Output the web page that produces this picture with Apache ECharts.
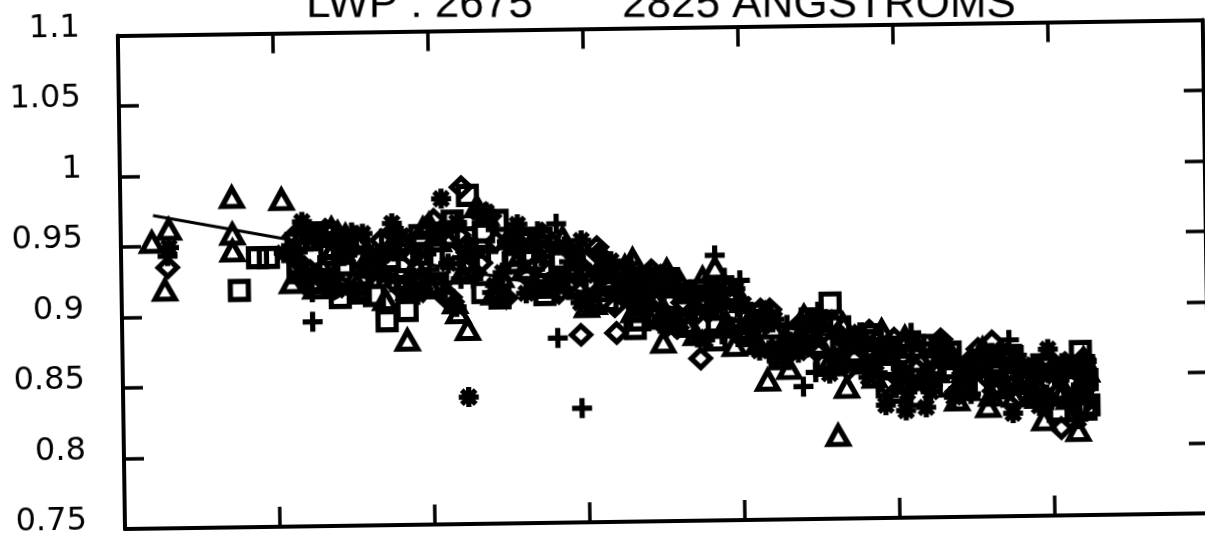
<!DOCTYPE html>
<html><head><meta charset="utf-8">
<script src="https://cdn.jsdelivr.net/npm/echarts@6/dist/echarts.min.js"></script>
<style>
html,body{margin:0;padding:0;background:#fff;overflow:hidden;width:1205px;height:535px;}
#c{position:absolute;left:0;top:0;width:1230px;height:560px;transform-origin:125px 529px;transform:rotate(-0.83deg);}
</style></head><body><div id="c"></div>
<script>
const titleParts = ['LWP : 2675', '2825 ANGSTROMS'];
const yTickValues = [0.75, 0.8, 0.85, 0.9, 0.95, 1.0, 1.05, 1.1];
const yTickLabels = ['0.75','0.8','0.85','0.9','0.95','1','1.05','1.1'];

const fitLine = [[0.21,0.972],[6.08,0.848]];

const triangleData = [
[0.20,0.953],[0.31,0.962],[0.28,0.919],[0.72,0.984],[0.72,0.958],[0.72,0.946],[1.04,0.982],[1.36,0.961],[1.99,0.963],[1.84,0.881],[2.23,0.888],[2.17,0.900],[2.36,0.969],[3.30,0.936],[3.52,0.928],[3.49,0.877],[3.83,0.929],[4.16,0.849],[4.61,0.809],[5.58,0.828],[5.94,0.818],[6.16,0.810],[4.67,0.843],[5.38,0.833],
[1.1,0.923],[1.2,0.953],[1.3,0.934],[1.4,0.958],[1.5,0.925],[1.6,0.942],[1.7,0.910],[1.8,0.955],[1.9,0.934],[2.0,0.918],[2.1,0.955],[2.2,0.928],[2.3,0.975],[2.4,0.913],[2.5,0.952],[2.6,0.930],[2.7,0.953],[2.8,0.920],[2.9,0.932],[3.0,0.903],[3.1,0.933],[3.2,0.915],[3.3,0.899],[3.4,0.918],[3.5,0.899],[3.6,0.920],[3.7,0.882],[3.8,0.914],[3.9,0.890],[4.0,0.905],[4.1,0.875],[4.2,0.886],[4.3,0.857],[4.4,0.894],[4.5,0.874],[4.6,0.861],[4.7,0.876],[4.8,0.860],[4.9,0.883],[5.0,0.839],[5.1,0.871],[5.2,0.851],[5.3,0.871],[5.4,0.844],[5.5,0.857],[5.6,0.836],[5.7,0.863],[5.8,0.848],[5.9,0.834],[6.0,0.853],[6.1,0.833],[6.2,0.861],
[1.15,0.953],[1.25,0.919],[1.35,0.943],[1.45,0.956],[1.55,0.927],[1.65,0.933],[1.75,0.949],[1.85,0.917],[1.95,0.960],[2.05,0.951],[2.15,0.907],[2.25,0.946],[2.35,0.968],[2.45,0.925],[2.55,0.935],[2.65,0.949],[2.75,0.917],[2.85,0.952],[2.95,0.936],[3.05,0.905],[3.15,0.922],[3.25,0.931],[3.35,0.903],[3.45,0.906],[3.55,0.916],[3.65,0.888],[3.75,0.922],[3.85,0.912],[3.95,0.874],[4.05,0.892],[4.15,0.896],[4.25,0.873],[4.35,0.876],[4.45,0.890],[4.55,0.859],[4.65,0.888],[4.75,0.876],[4.85,0.850],[4.95,0.866],[5.05,0.878],[5.15,0.848],[5.25,0.853],[5.35,0.865],[5.45,0.840],[5.55,0.869],[5.65,0.859],[5.75,0.835],[5.85,0.851],[5.95,0.861],[6.05,0.835],[6.15,0.838],[6.22,0.852]
];

const squareData = [
[0.76,0.918],[0.88,0.941],[0.95,0.941],[1.71,0.895],[1.84,0.902],[2.24,0.983],[3.31,0.887],[4.57,0.903],[6.18,0.866],[1.41,0.912],[6.20,0.856],[6.22,0.846],[6.19,0.836],[6.21,0.825],
[1.13,0.951],[1.23,0.924],[1.33,0.958],[1.43,0.935],[1.53,0.950],[1.63,0.913],[1.73,0.939],[1.83,0.924],[1.93,0.955],[2.03,0.918],[2.13,0.941],[2.23,0.953],[2.33,0.914],[2.43,0.965],[2.53,0.935],[2.63,0.949],[2.73,0.912],[2.83,0.935],[2.93,0.918],[3.03,0.936],[3.13,0.907],[3.23,0.917],[3.33,0.920],[3.43,0.894],[3.53,0.922],[3.63,0.899],[3.73,0.913],[3.83,0.878],[3.93,0.898],[4.03,0.881],[4.13,0.896],[4.23,0.869],[4.33,0.880],[4.43,0.885],[4.53,0.859],[4.63,0.886],[4.73,0.868],[4.83,0.876],[4.93,0.843],[5.03,0.863],[5.13,0.848],[5.23,0.872],[5.33,0.843],[5.43,0.855],[5.53,0.859],[5.63,0.841],[5.73,0.864],[5.83,0.846],[5.93,0.857],[6.03,0.824],[6.13,0.844],[6.23,0.828],
[1.14,0.930],[1.24,0.958],[1.34,0.934],[1.44,0.949],[1.54,0.915],[1.64,0.937],[1.74,0.952],[1.84,0.919],[1.94,0.942],[2.04,0.921],[2.14,0.965],[2.24,0.931],[2.34,0.957],[2.44,0.910],[2.54,0.940],[2.64,0.952],[2.74,0.919],[2.84,0.937],[2.94,0.916],[3.04,0.936],[3.14,0.914],[3.24,0.925],[3.34,0.893],[3.44,0.910],[3.54,0.918],[3.64,0.890],[3.74,0.907],[3.84,0.887],[3.94,0.912],[4.04,0.885],[4.14,0.891],[4.24,0.864],[4.34,0.880],[4.44,0.892],[4.54,0.861],[4.64,0.876],[4.74,0.862],[4.84,0.880],[4.94,0.858],[5.04,0.871],[5.14,0.836],[5.24,0.858],[5.34,0.867],[5.44,0.842],[5.54,0.858],[5.64,0.844],[5.74,0.863],[5.84,0.844],[5.94,0.855],[6.04,0.824],[6.14,0.842],[6.2,0.854]
];

const diamondData = [
[0.30,0.935],[1.17,0.925],[2.20,0.989],[2.96,0.883],[3.07,0.945],[3.73,0.865],[5.61,0.874],[6.05,0.812],[3.19,0.884],
[1.18,0.934],[1.28,0.957],[1.38,0.919],[1.48,0.946],[1.58,0.934],[1.68,0.952],[1.78,0.920],[1.88,0.940],[1.98,0.960],[2.08,0.912],[2.18,0.955],[2.28,0.928],[2.38,0.968],[2.48,0.910],[2.58,0.947],[2.68,0.933],[2.78,0.948],[2.88,0.918],[2.98,0.930],[3.08,0.940],[3.18,0.903],[3.28,0.925],[3.38,0.905],[3.48,0.924],[3.58,0.887],[3.68,0.909],[3.78,0.898],[3.88,0.917],[3.98,0.881],[4.08,0.892],[4.18,0.899],[4.28,0.866],[4.38,0.889],[4.48,0.869],[4.58,0.890],[4.68,0.856],[4.78,0.875],[4.88,0.864],[4.98,0.877],[5.08,0.844],[5.18,0.862],[5.28,0.876],[5.38,0.839],[5.48,0.862],[5.58,0.848],[5.68,0.864],[5.78,0.835],[5.88,0.855],[5.98,0.844],[6.08,0.858],[6.18,0.827],[6.21,0.842],
[1.12,0.956],[1.22,0.931],[1.32,0.960],[1.42,0.920],[1.52,0.941],[1.62,0.933],[1.72,0.944],[1.82,0.950],[1.92,0.924],[2.02,0.966],[2.12,0.911],[2.22,0.946],[2.32,0.935],[2.42,0.950],[2.52,0.952],[2.62,0.925],[2.72,0.955],[2.82,0.913],[2.92,0.930],[3.02,0.920],[3.12,0.926],[3.22,0.927],[3.32,0.903],[3.42,0.928],[3.52,0.889],[3.62,0.905],[3.72,0.898],[3.82,0.909],[3.92,0.907],[4.02,0.881],[4.12,0.899],[4.22,0.866],[4.32,0.882],[4.42,0.873],[4.52,0.882],[4.62,0.881],[4.72,0.863],[4.82,0.883],[4.92,0.845],[5.02,0.863],[5.12,0.855],[5.22,0.864],[5.32,0.865],[5.42,0.846],[5.52,0.869],[5.62,0.839],[5.72,0.853],[5.82,0.846],[5.92,0.853],[6.02,0.856],[6.12,0.831],[6.2,0.861]
];

const plusData = [
[0.30,0.943],[1.23,0.895],[1.23,0.916],[2.81,0.881],[2.96,0.831],[2.81,0.962],[3.83,0.938],[3.99,0.920],[4.39,0.844],[5.72,0.875],
[1.17,0.958],[1.27,0.930],[1.37,0.941],[1.47,0.917],[1.57,0.947],[1.67,0.930],[1.77,0.957],[1.87,0.917],[1.97,0.942],[2.07,0.921],[2.17,0.962],[2.27,0.924],[2.37,0.943],[2.47,0.910],[2.57,0.950],[2.67,0.930],[2.77,0.953],[2.87,0.916],[2.97,0.932],[3.07,0.912],[3.17,0.931],[3.27,0.907],[3.37,0.914],[3.47,0.890],[3.57,0.914],[3.67,0.897],[3.77,0.920],[3.87,0.882],[3.97,0.901],[4.07,0.879],[4.17,0.894],[4.27,0.873],[4.37,0.880],[4.47,0.854],[4.57,0.884],[4.67,0.868],[4.77,0.882],[4.87,0.853],[4.97,0.868],[5.07,0.846],[5.17,0.873],[5.27,0.847],[5.37,0.856],[5.47,0.837],[5.57,0.861],[5.67,0.848],[5.77,0.864],[5.87,0.835],[5.97,0.851],[6.07,0.833],[6.17,0.855],[6.21,0.830],
[1.19,0.925],[1.29,0.949],[1.39,0.936],[1.49,0.958],[1.59,0.927],[1.69,0.940],[1.79,0.917],[1.89,0.945],[1.99,0.931],[2.09,0.963],[2.19,0.924],[2.29,0.946],[2.39,0.914],[2.49,0.950],[2.59,0.935],[2.69,0.957],[2.79,0.924],[2.89,0.935],[2.99,0.912],[3.09,0.929],[3.19,0.916],[3.29,0.933],[3.39,0.903],[3.49,0.912],[3.59,0.891],[3.69,0.909],[3.79,0.898],[3.89,0.922],[3.99,0.885],[4.09,0.892],[4.19,0.872],[4.29,0.888],[4.39,0.876],[4.49,0.897],[4.59,0.865],[4.69,0.874],[4.79,0.859],[4.89,0.873],[4.99,0.860],[5.09,0.881],[5.19,0.848],[5.29,0.860],[5.39,0.841],[5.49,0.860],[5.59,0.851],[5.69,0.866],[5.79,0.843],[5.89,0.851],[5.99,0.832],[6.09,0.851],[6.19,0.838],[6.22,0.859]
];

const starData = [
[0.31,0.949],[1.05,0.944],[1.17,0.966],[1.52,0.956],[1.75,0.964],[2.07,0.981],[2.17,0.964],[2.56,0.962],[2.97,0.950],[2.23,0.840],[5.74,0.823],[5.97,0.868],[4.92,0.830],[5.05,0.826],[5.18,0.828],
[1.11,0.942],[1.21,0.960],[1.31,0.926],[1.41,0.949],[1.51,0.915],[1.61,0.942],[1.71,0.927],[1.81,0.955],[1.91,0.913],[2.01,0.954],[2.11,0.935],[2.21,0.939],[2.31,0.971],[2.41,0.919],[2.51,0.950],[2.61,0.913],[2.71,0.939],[2.81,0.924],[2.91,0.942],[3.01,0.907],[3.11,0.929],[3.21,0.913],[3.31,0.912],[3.41,0.926],[3.51,0.893],[3.61,0.911],[3.71,0.880],[3.81,0.907],[3.91,0.887],[4.01,0.903],[4.11,0.870],[4.21,0.892],[4.31,0.876],[4.41,0.876],[4.51,0.892],[4.61,0.861],[4.71,0.876],[4.81,0.850],[4.91,0.868],[5.01,0.851],[5.11,0.875],[5.21,0.839],[5.31,0.865],[5.41,0.851],[5.51,0.853],[5.61,0.866],[5.71,0.840],[5.81,0.857],[5.91,0.828],[6.01,0.849],[6.11,0.833],[6.21,0.856],
[1.16,0.930],[1.26,0.955],[1.36,0.917],[1.46,0.942],[1.56,0.957],[1.66,0.928],[1.76,0.944],[1.86,0.914],[1.96,0.921],[2.06,0.957],[2.16,0.904],[2.26,0.946],[2.36,0.971],[2.46,0.928],[2.56,0.947],[2.66,0.916],[2.76,0.921],[2.86,0.946],[2.96,0.906],[3.06,0.925],[3.16,0.935],[3.26,0.909],[3.36,0.920],[3.46,0.892],[3.56,0.895],[3.66,0.914],[3.76,0.878],[3.86,0.904],[3.96,0.914],[4.06,0.883],[4.16,0.889],[4.26,0.866],[4.36,0.868],[4.46,0.892],[4.56,0.853],[4.66,0.874],[4.76,0.882],[4.86,0.860],[4.96,0.870],[5.06,0.839],[5.16,0.846],[5.26,0.870],[5.36,0.835],[5.46,0.857],[5.56,0.867],[5.66,0.847],[5.76,0.856],[5.86,0.833],[5.96,0.836],[6.06,0.858],[6.16,0.818],[6.22,0.842]
];

const chart = echarts.init(document.getElementById('c'), null, {renderer:'canvas'});
const ink = '#000';
const open = {color:'rgba(0,0,0,0)', borderColor:ink, borderWidth:5.2, opacity:1};
const tilt = -0.83 * Math.PI / 180;
const labelFont = '32px "DejaVu Sans"';

function axisBase(pos){
  return {
    type:'value', position:pos,
    axisLine:{show:true, onZero:false, lineStyle:{color:ink, width:4}},
    axisTick:{show:true, inside:true, length:20, lineStyle:{color:ink, width:3.5}},
    splitLine:{show:false},
    axisLabel:{show:false}
  };
}

const xBottom = Object.assign(axisBase('bottom'), {min:0, max:7, interval:1});
const xTop = Object.assign(axisBase('top'), {min:0, max:7, interval:1});
const yLeft = Object.assign(axisBase('left'), {min:0.75, max:1.1, interval:0.05});
const yRight = Object.assign(axisBase('right'), {min:0.75, max:1.1, interval:0.05});

function titleText(txt, x, y){
  return {type:'text', x:x, y:y, rotation:tilt, silent:true,
    style:{text:txt, fill:ink, font:'44px "Liberation Sans"', fontSize:44, fontFamily:'Liberation Sans',
      textAlign:'left', textVerticalAlign:'middle', align:'left', verticalAlign:'middle'}};
}

function scatter(data, symbol, size){
  return {type:'scatter', data:data, symbol:symbol, symbolSize:size, itemStyle:open, silent:true,
    emphasis:{disabled:true}};
}

chart.setOption({
  animation:false,
  backgroundColor:'#fff',
  grid:{left:125, top:35.5, width:1085, height:493.5, outerBoundsMode:'none', containLabel:false},
  xAxis:[xBottom, xTop],
  yAxis:[yLeft, yRight],
  series:[
    {type:'line', data:fitLine, symbol:'none', silent:true, z:1, lineStyle:{color:ink, width:3}},
    scatter(triangleData, 'triangle', [20,18]),
    scatter(squareData, 'rect', [18,18]),
    scatter(diamondData, 'diamond', [19,18]),
    scatter(plusData, 'path://M10,0L10,20M0,10L20,10', [20,20]),
    scatter(starData, 'path://M10,0L10,20M0,10L20,10M3,3L17,17M17,3L3,17', [20,20])
  ]
});

// y tick labels: right edge at a fixed gap left of the axis, vertical position from the y scale
const measureCtx = document.createElement('canvas').getContext('2d');
measureCtx.font = labelFont;
const axisX = chart.convertToPixel({xAxisIndex:0}, 0);
const tickLabelGraphics = yTickValues.map((v, i) => {
  const w = measureCtx.measureText(yTickLabels[i]).width;
  return {
    type:'text', silent:true,
    x: axisX - 38 - w,
    y: chart.convertToPixel({yAxisIndex:0}, v) - 8,
    style:{text:yTickLabels[i], fill:ink, font:labelFont, fontSize:32, fontFamily:'DejaVu Sans',
      textAlign:'left', textVerticalAlign:'middle', align:'left', verticalAlign:'middle'}
  };
});

chart.setOption({
  graphic:[titleText(titleParts[0], 313.7, 7.6), titleText(titleParts[1], 629.7, 12.2)].concat(tickLabelGraphics)
});
</script>
</body></html>
